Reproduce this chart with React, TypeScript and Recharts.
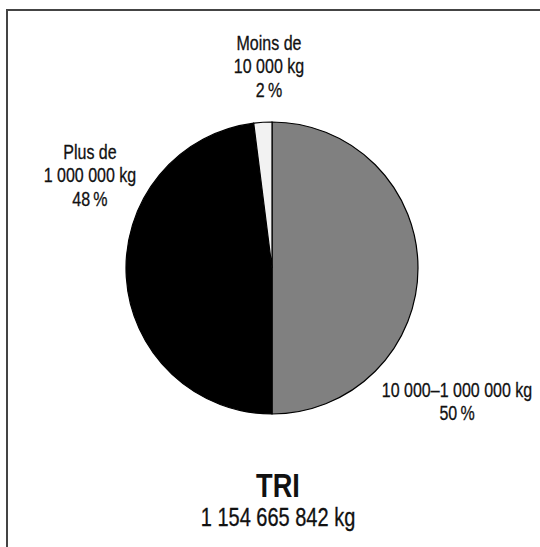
import React from "react";
import { PieChart, Pie, Cell } from "recharts";

const categories = ["10 000–1 000 000 kg", "Plus de 1 000 000 kg", "Moins de 10 000 kg"];
const values = [50, 48, 2];
const labelLines = [
  ["10 000–1 000 000 kg", "50\u2009%"],
  ["Plus de", "1 000 000 kg", "48\u2009%"],
  ["Moins de", "10 000 kg", "2\u2009%"],
];
const colors = ["#808080", "#000000", "#f2f2f2"];
const labelOffsets = [
  { dx: 185, dy: 122 },
  { dx: -182, dy: -116 },
  { dx: -3, dy: -225 },
];
const title = "TRI";
const total = "1 154 665 842 kg";

const data = categories.map((name, i) => ({ name, value: values[i] }));

const FONT = '"Liberation Sans", Arial, sans-serif';
const SX = 0.8;
const LINE = 23.5;

const renderLabel = (props: any) => {
  const { cx, cy, index } = props;
  const off = labelOffsets[index];
  const lines = labelLines[index];
  const x = cx + off.dx;
  return (
    <text
      key={"l" + index}
      x={x}
      y={cy + off.dy}
      textAnchor="middle"
      fill="#111"
      stroke="#111"
      strokeWidth={0.3}
      transform={`translate(${x},0) scale(${SX},1) translate(${-x},0)`}
      style={{ fontFamily: FONT, fontSize: 20 }}
    >
      {lines.map((t, j) => (
        <tspan key={j} x={x} y={cy + off.dy + j * LINE} dominantBaseline="central">
          {t}
        </tspan>
      ))}
    </text>
  );
};

export default function App() {
  return (
    <div
      style={{
        position: "absolute",
        left: 0,
        top: 0,
        width: 540,
        height: 547,
        overflow: "hidden",
        background: "#fff",
      }}
    >
      <div
        style={{
          position: "absolute",
          left: 6,
          top: 9,
          width: 600,
          height: 600,
          border: "2px solid #444",
        }}
      />
      <div style={{ position: "absolute", left: 0, top: 0 }}>
        <PieChart width={540} height={547} margin={{ top: 0, right: 0, bottom: 0, left: 0 }}>
          <Pie
            data={data}
            dataKey="value"
            nameKey="name"
            cx={272}
            cy={268}
            outerRadius={146}
            startAngle={90}
            endAngle={-270}
            stroke="#000"
            strokeWidth={1.2}
            label={renderLabel}
            labelLine={false}
            isAnimationActive={false}
          >
            {data.map((d, i) => (
              <Cell key={d.name} fill={colors[i]} />
            ))}
          </Pie>
        </PieChart>
      </div>
      <div
        style={{
          position: "absolute",
          left: 0,
          width: 556,
          top: 465,
          textAlign: "center",
          fontFamily: FONT,
          fontWeight: "bold",
          fontSize: 34,
          lineHeight: "40px",
          color: "#111",
          transform: `scaleX(${SX})`,
          transformOrigin: "278px 0",
        }}
      >
        {title}
      </div>
      <div
        style={{
          position: "absolute",
          left: 0,
          width: 556,
          top: 502,
          textAlign: "center",
          fontFamily: FONT,
          fontSize: 25,
          lineHeight: "30px",
          color: "#111",
          WebkitTextStroke: "0.3px #111",
          transform: `scaleX(${SX})`,
          transformOrigin: "278px 0",
        }}
      >
        {total}
      </div>
    </div>
  );
}
